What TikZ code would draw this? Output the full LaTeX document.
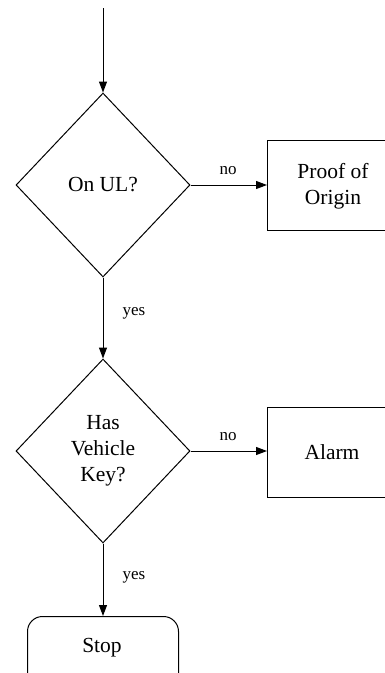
\documentclass[tikz,border=0pt]{standalone}
\usepackage{fontspec}
\setmainfont{Liberation Serif}
\usetikzlibrary{shapes.geometric,arrows.meta}
\begin{document}
\begin{tikzpicture}[x=1pt,y=-1pt,
  line width=1pt,
  mainfont/.style={font=\fontsize{21.5}{26}\selectfont},
  decision/.style={draw, diamond, inner sep=0pt, minimum width=174pt, minimum height=184pt, align=center, mainfont},
  procbox/.style={draw, rectangle, inner sep=0pt, minimum width=150pt, minimum height=90pt},
  termbox/.style={draw, rectangle, rounded corners=15pt, inner sep=0pt, minimum width=151pt, minimum height=100pt},
  lbl/.style={font=\fontsize{17}{19}\selectfont, inner sep=0pt},
  conn/.style={-{Triangle[length=11pt,width=8pt]}}]
\clip (0,0) rectangle (385,673);
\fill[white] (0,0) rectangle (385,673);
\coordinate (start) at (103,8);
\node[decision] (d1) at (103,185) {On UL?};
\node[procbox, anchor=north west] (p1) at (267,140) {};
\node at (333,186) [align=center, mainfont] (p1t) {Proof of\\Origin};
\node[decision] (d2) at (103,451) {Has\\Vehicle\\Key?};
\node[procbox, anchor=north west] (p2) at (267,407) {};
\node at (332,452) [mainfont] (p2t) {Alarm};
\node[termbox, anchor=north west] (st) at (27,616) {};
\node at (102,648) [mainfont] (stt) {Stop};
\draw[conn] (start) -- (d1.north);
\draw[conn] (d1.east) -- (d1.east -| p1.west);
\draw[conn] (d1.south) -- (d2.north);
\draw[conn] (d2.east) -- (d2.east -| p2.west);
\draw[conn] (d2.south) -- (d2.south |- st.north);
\node[lbl] (n1) at (228,171) {no};
\node[lbl] (y1) at (134,313) {yes};
\node[lbl] (n2) at (228,437) {no};
\node[lbl] (y2) at (134,577) {yes};
\end{tikzpicture}
\end{document}
